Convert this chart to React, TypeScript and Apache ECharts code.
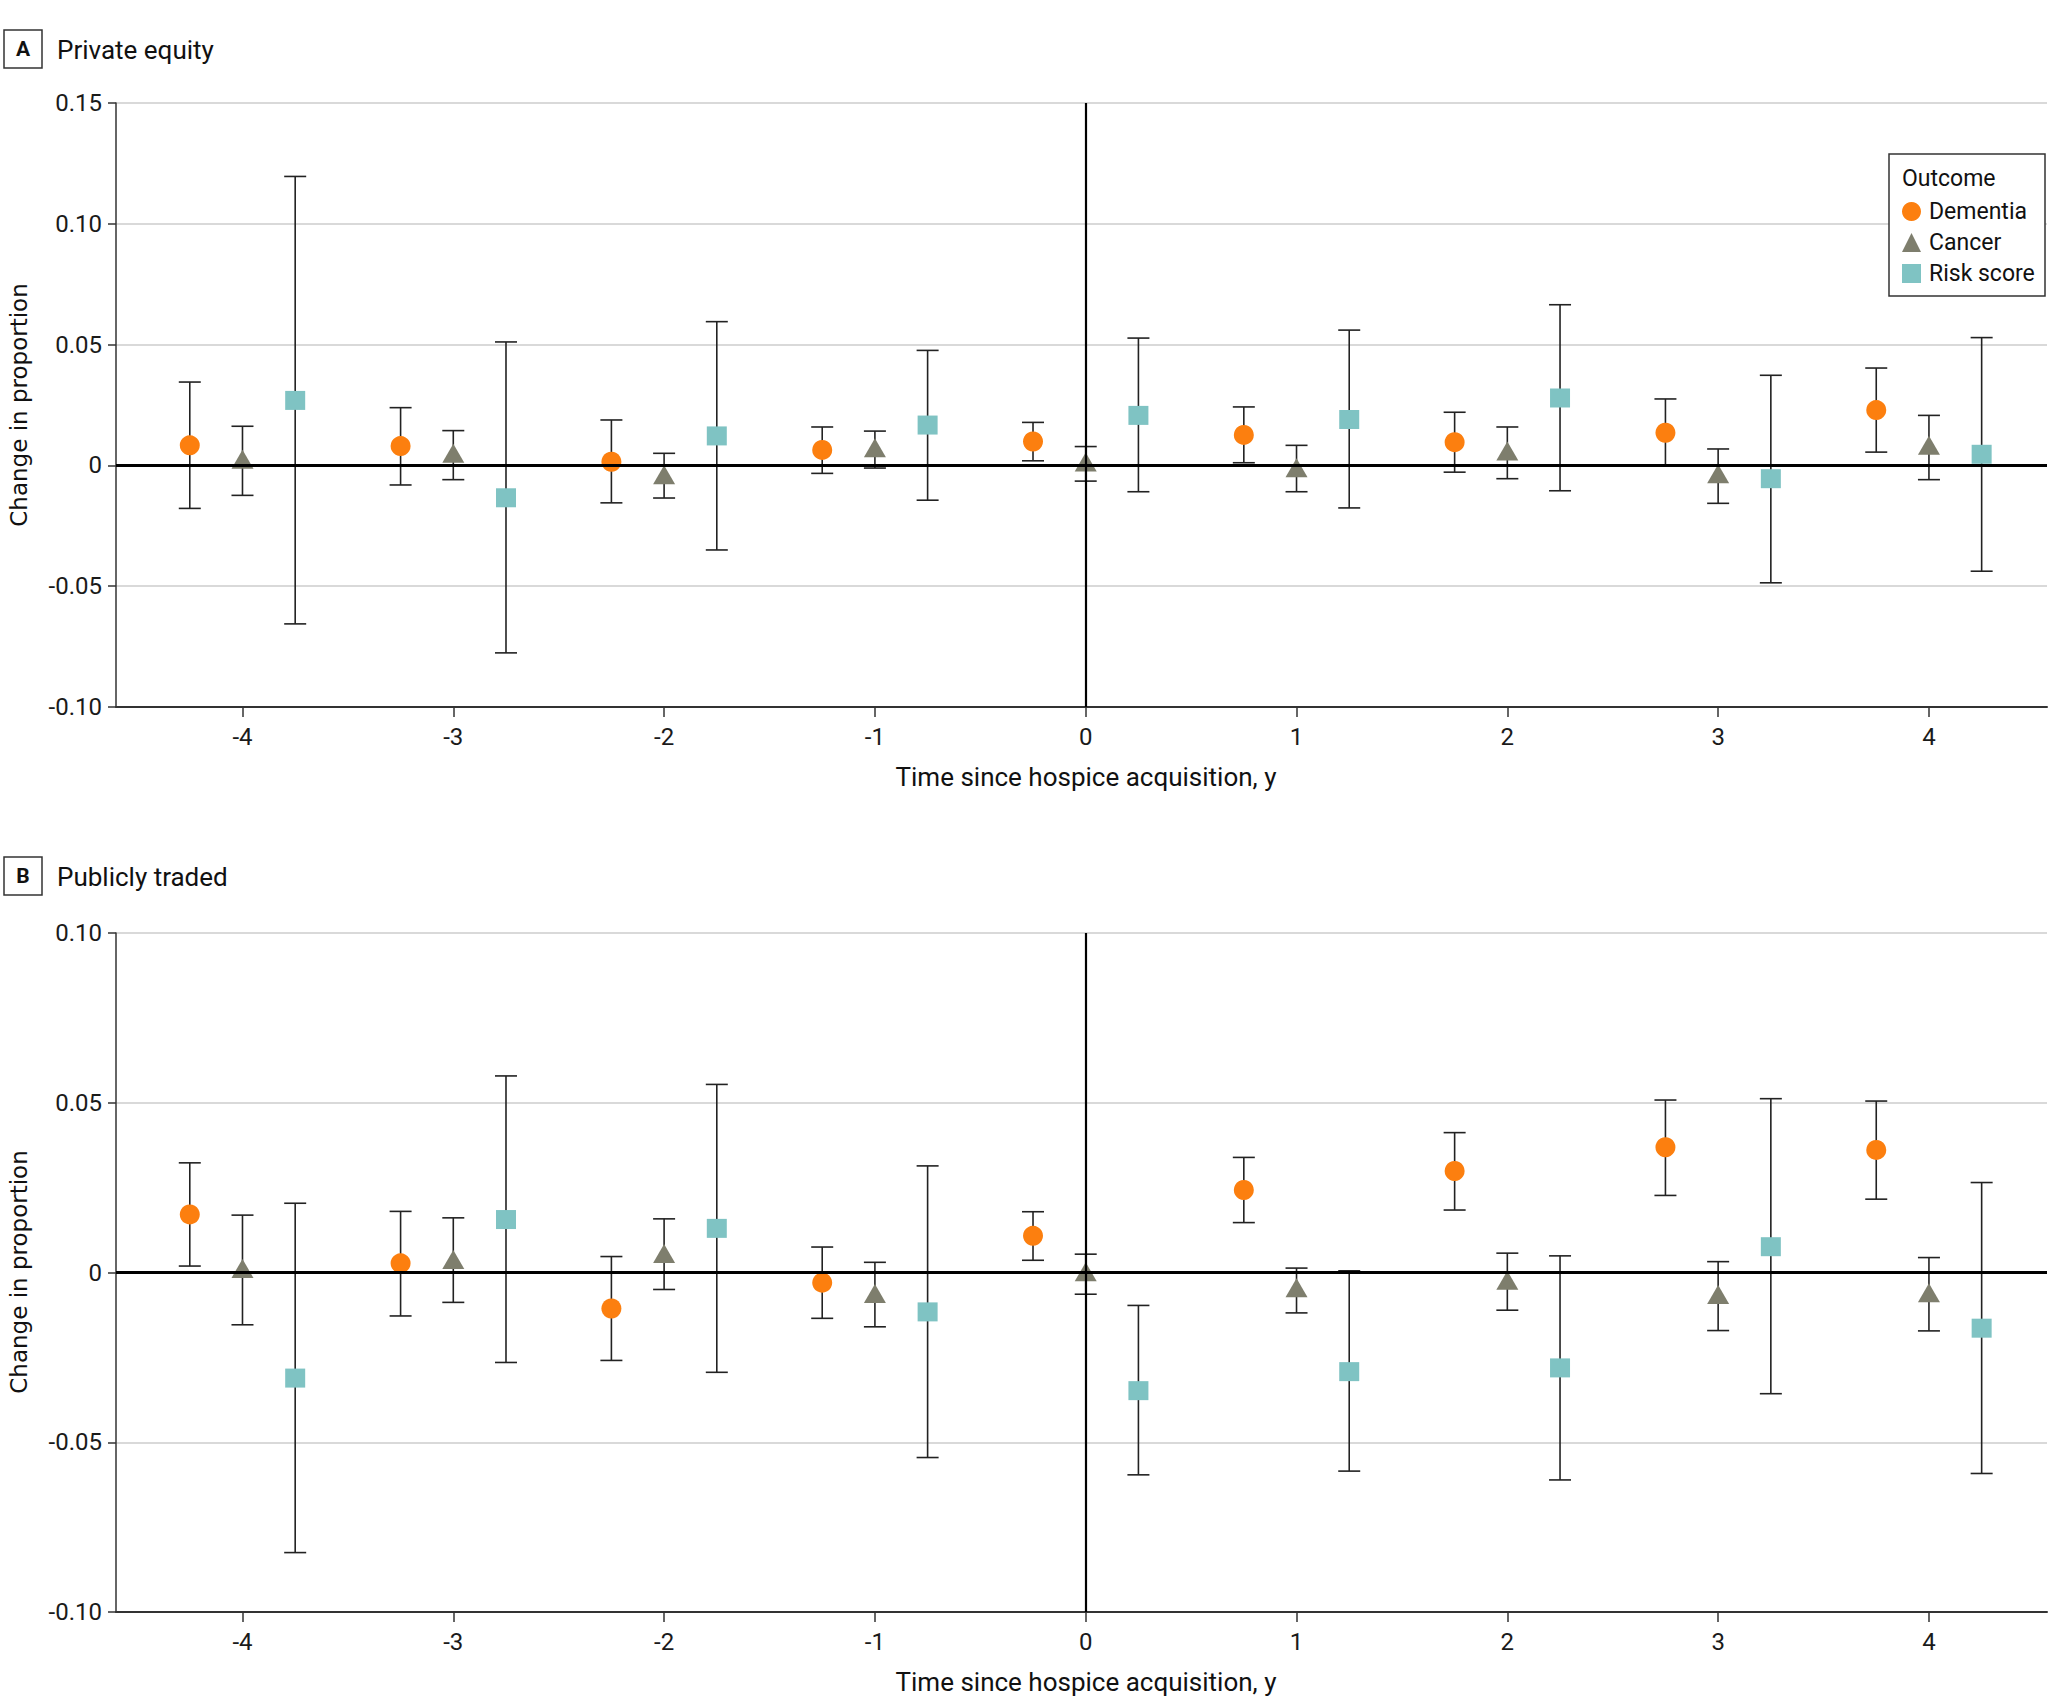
import React, { useEffect, useRef } from "react";
import * as echarts from "echarts";

// ---- Data ----
const times = [-4, -3, -2, -1, 0, 1, 2, 3, 4];
const yTicksA = [-0.1, -0.05, 0, 0.05, 0.1, 0.15];
const yTicksB = [-0.1, -0.05, 0, 0.05, 0.1];

// Panel A: Private equity
const peDementia = [0.0083, 0.008, 0.0015, 0.0064, 0.0099, 0.0126, 0.0096, 0.0135, 0.0229];
const peDementiaLo = [-0.0178, -0.0081, -0.0155, -0.0033, 0.0019, 0.0011, -0.0028, 0.0002, 0.0055];
const peDementiaHi = [0.0345, 0.0239, 0.0188, 0.0159, 0.0178, 0.0242, 0.022, 0.0275, 0.0403];
const peCancer = [0.0025, 0.005, -0.0039, 0.0073, 0.0014, -0.001, 0.006, -0.0035, 0.0083];
const peCancerLo = [-0.0124, -0.0059, -0.0135, -0.0011, -0.0065, -0.0109, -0.0055, -0.0157, -0.0059];
const peCancerHi = [0.0162, 0.0144, 0.005, 0.0142, 0.0078, 0.0083, 0.0159, 0.0068, 0.0207];
const peRisk = [0.0269, -0.0134, 0.0122, 0.0167, 0.0207, 0.019, 0.0279, -0.0055, 0.0046];
const peRiskLo = [-0.0656, -0.0776, -0.035, -0.0144, -0.0109, -0.0176, -0.0105, -0.0486, -0.0438];
const peRiskHi = [0.1196, 0.0511, 0.0595, 0.0476, 0.0527, 0.056, 0.0665, 0.0373, 0.0529];

// Panel B: Publicly traded
const ptDementia = [0.0171, 0.0027, -0.0106, -0.003, 0.0108, 0.0243, 0.0299, 0.0369, 0.0361];
const ptDementiaLo = [0.0019, -0.0128, -0.0259, -0.0135, 0.0036, 0.0147, 0.0184, 0.0227, 0.0216];
const ptDementiaHi = [0.0323, 0.018, 0.0047, 0.0075, 0.0179, 0.0339, 0.0412, 0.0508, 0.0505];
const ptCancer = [0.0012, 0.0038, 0.0056, -0.0062, 0.0002, -0.0045, -0.0023, -0.0065, -0.006];
const ptCancerLo = [-0.0154, -0.0088, -0.005, -0.016, -0.0064, -0.0119, -0.0111, -0.0171, -0.0172];
const ptCancerHi = [0.0169, 0.0161, 0.0158, 0.003, 0.0054, 0.0013, 0.0057, 0.0032, 0.0044];
const ptRisk = [-0.0311, 0.0156, 0.013, -0.0116, -0.0348, -0.0292, -0.0281, 0.0076, -0.0164];
const ptRiskLo = [-0.0825, -0.0265, -0.0294, -0.0545, -0.0596, -0.0585, -0.0611, -0.0357, -0.0592];
const ptRiskHi = [0.0204, 0.0579, 0.0554, 0.0314, -0.0097, 0.0005, 0.0049, 0.0512, 0.0265];

const outcomes = ["Dementia", "Cancer", "Risk score"];

// ---- Styles ----
const FONT = "Roboto, 'Noto Sans', sans-serif";
const TXT = "#1a1a1a";
const AX = "#333333";
const styles: Record<string, { color: string; symbol: string; size: any; offset: number }> = {
  Dementia: { color: "#FC7F0F", symbol: "circle", size: 20, offset: -0.25 },
  Cancer: { color: "#7E7E6D", symbol: "triangle", size: [22, 19], offset: 0 },
  "Risk score": { color: "#7FC3C3", symbol: "rect", size: [20, 19], offset: 0.25 },
};

const yFmt = (v: number) => (Math.abs(v) < 1e-9 ? "0" : v.toFixed(2));

function errorSeries(gi: number, name: string, lo: number[], hi: number[], withMark: boolean) {
  const off = styles[name].offset;
  const s: any = {
    type: "custom",
    name: name + " CI",
    xAxisIndex: gi,
    yAxisIndex: gi,
    z: 2,
    silent: true,
    data: times.map((t, i) => [t + off, lo[i], hi[i]]),
    encode: { x: 0, y: [1, 2] },
    renderItem: (_p: any, api: any) => {
      const x = api.value(0);
      const a = api.coord([x, api.value(2)]);
      const b = api.coord([x, api.value(1)]);
      const hw = 11;
      const st = { stroke: "#222222", lineWidth: 1.6 };
      return {
        type: "group",
        children: [
          { type: "line", shape: { x1: a[0], y1: a[1], x2: b[0], y2: b[1] }, style: st },
          { type: "line", shape: { x1: a[0] - hw, y1: a[1], x2: a[0] + hw, y2: a[1] }, style: st },
          { type: "line", shape: { x1: b[0] - hw, y1: b[1], x2: b[0] + hw, y2: b[1] }, style: st },
        ],
      };
    },
  };
  if (withMark) {
    s.markLine = {
      silent: true,
      symbol: ["none", "none"],
      label: { show: false },
      data: [
        { yAxis: 0, lineStyle: { color: "#000", width: 3, type: "solid" } },
        { xAxis: 0, lineStyle: { color: "#000", width: 2.2, type: "solid" } },
      ],
    };
  }
  return s;
}

function pointSeries(gi: number, name: string, est: number[]) {
  const st = styles[name];
  return {
    type: "scatter",
    name,
    xAxisIndex: gi,
    yAxisIndex: gi,
    z: 4,
    symbol: st.symbol,
    symbolSize: st.size,
    itemStyle: { color: st.color, opacity: 1 },
    data: times.map((t, i) => [t + st.offset, est[i]]),
  };
}

function xAxis(gi: number) {
  return {
    gridIndex: gi,
    type: "value",
    min: -4.6,
    max: 4.56,
    axisLine: { show: true, onZero: false, lineStyle: { color: AX, width: 2 } },
    axisTick: { show: true, length: 10, customValues: times, lineStyle: { color: AX, width: 1.5 } },
    axisLabel: {
      customValues: times,
      margin: 18,
      fontSize: 24,
      fontFamily: FONT,
      color: TXT,
      formatter: (v: number) => String(v),
    },
    splitLine: { show: false },
  };
}

function yAxis(gi: number, ticks: number[]) {
  return {
    gridIndex: gi,
    type: "value",
    min: ticks[0],
    max: ticks[ticks.length - 1],
    interval: 0.05,
    axisLine: { show: true, onZero: false, lineStyle: { color: AX, width: 1.5 } },
    axisTick: { show: true, length: 8, lineStyle: { color: AX, width: 1.5 } },
    axisLabel: { margin: 14, fontSize: 24, fontFamily: FONT, color: TXT, formatter: yFmt },
    splitLine: { show: true, lineStyle: { color: "#d9d9d9", width: 2 } },
  };
}

function panelLabel(letter: string, title: string, top: number) {
  return [
    {
      type: "rect",
      shape: { x: 4, y: top, width: 38, height: 38 },
      style: { fill: "#fff", stroke: "#333", lineWidth: 1.5 },
    },
    {
      type: "text",
      x: 23,
      y: top + 19,
      style: {
        text: letter,
        font: `bold 21px ${FONT}`,
        fill: "#111",
        textAlign: "center",
        textVerticalAlign: "middle",
      },
    },
    {
      type: "text",
      x: 57,
      y: top + 20,
      style: {
        text: title,
        font: `26px ${FONT}`,
        fill: "#111",
        textAlign: "left",
        textVerticalAlign: "middle",
      },
    },
  ];
}

function yTitle(cy: number) {
  return {
    type: "text",
    x: 19,
    y: cy,
    rotation: Math.PI / 2,
    style: {
      text: "Change in proportion",
      font: "23px 'DejaVu Sans', sans-serif",
      fill: "#111",
      textAlign: "center",
      textVerticalAlign: "middle",
    },
  };
}

function xTitle(cy: number) {
  return {
    type: "text",
    x: 1086,
    y: cy,
    style: {
      text: "Time since hospice acquisition, y",
      font: `26px ${FONT}`,
      fill: "#111",
      textAlign: "center",
      textVerticalAlign: "middle",
    },
  };
}

export default function App() {
  const ref = useRef<HTMLDivElement>(null);
  useEffect(() => {
    if (!ref.current) return;
    const chart = echarts.init(ref.current, undefined, { renderer: "svg" });
    const option: any = {
      animation: false,
      backgroundColor: "#ffffff",
      grid: [
        { left: 116, right: 1, top: 103, height: 604 },
        { left: 116, right: 1, top: 933, height: 679 },
      ],
      xAxis: [xAxis(0), xAxis(1)],
      yAxis: [yAxis(0, yTicksA), yAxis(1, yTicksB)],
      legend: {
        data: outcomes,
        orient: "vertical",
        left: 1902,
        top: 200,
        itemWidth: 19,
        itemHeight: 19,
        itemGap: 8,
        padding: 0,
        textStyle: { fontSize: 23, fontFamily: FONT, color: "#111", lineHeight: 19, padding: [0, 0, 0, 3] },
        z: 10,
      },
      graphic: [
        {
          type: "rect",
          z: 5,
          shape: { x: 1889, y: 154, width: 156, height: 142 },
          style: { fill: "#fff", stroke: "#333", lineWidth: 1.5 },
        },
        {
          type: "text",
          z: 6,
          x: 1902,
          y: 178,
          style: { text: "Outcome", font: `23px ${FONT}`, fill: "#111", textVerticalAlign: "middle" },
        },
        ...panelLabel("A", "Private equity", 30),
        ...panelLabel("B", "Publicly traded", 857),
        yTitle(405),
        yTitle(1272),
        xTitle(777),
        xTitle(1682),
      ],
      series: [
        errorSeries(0, "Dementia", peDementiaLo, peDementiaHi, true),
        errorSeries(0, "Cancer", peCancerLo, peCancerHi, false),
        errorSeries(0, "Risk score", peRiskLo, peRiskHi, false),
        pointSeries(0, "Dementia", peDementia),
        pointSeries(0, "Cancer", peCancer),
        pointSeries(0, "Risk score", peRisk),
        errorSeries(1, "Dementia", ptDementiaLo, ptDementiaHi, true),
        errorSeries(1, "Cancer", ptCancerLo, ptCancerHi, false),
        errorSeries(1, "Risk score", ptRiskLo, ptRiskHi, false),
        pointSeries(1, "Dementia", ptDementia),
        pointSeries(1, "Cancer", ptCancer),
        pointSeries(1, "Risk score", ptRisk),
      ],
    };
    chart.setOption(option);
    return () => chart.dispose();
  }, []);
  return (
    <div
      ref={ref}
      style={{ position: "absolute", left: 0, top: 0, width: 2048, height: 1708, background: "#fff" }}
    />
  );
}
